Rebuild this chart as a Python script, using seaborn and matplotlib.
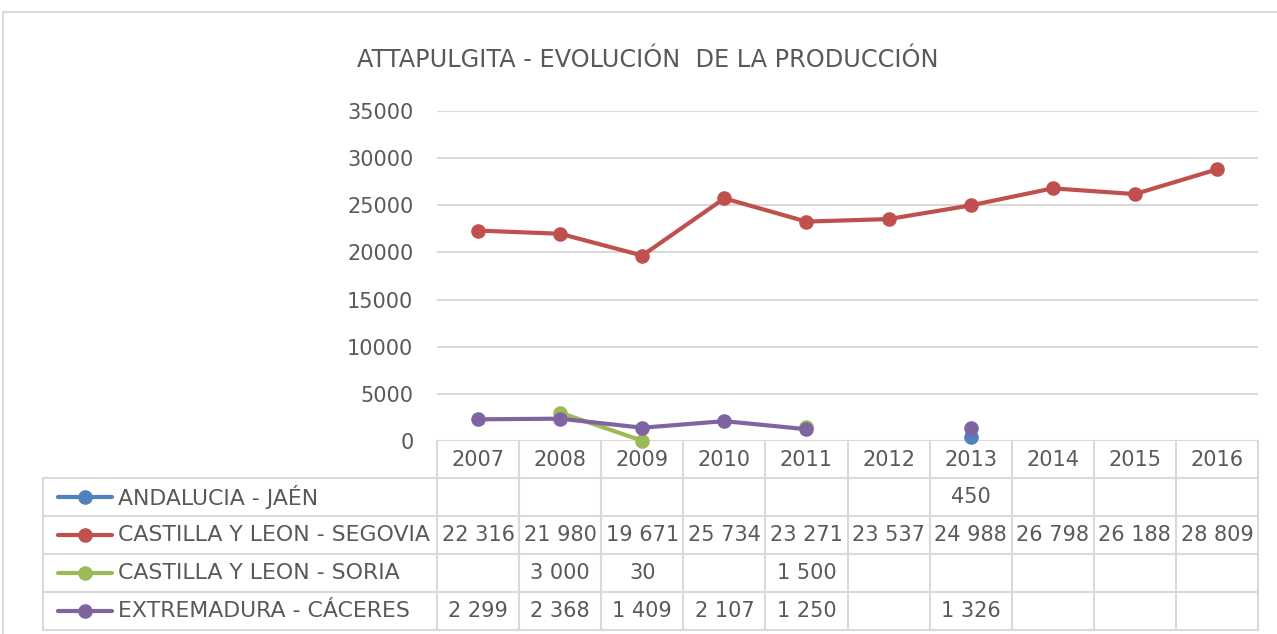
import matplotlib
matplotlib.use("Agg")
import matplotlib.pyplot as plt
import numpy as np
import pandas as pd
import seaborn as sns

# Chart data
YEARS = [2007, 2008, 2009, 2010, 2011, 2012, 2013, 2014, 2015, 2016]
SERIES = [
    "ANDALUCIA - JAÉN",
    "CASTILLA Y LEON - SEGOVIA",
    "CASTILLA Y LEON - SORIA",
    "EXTREMADURA - CÁCERES",
]
JAEN = [None, None, None, None, None, None, 450, None, None, None]
SEGOVIA = [22316, 21980, 19671, 25734, 23271, 23537, 24988, 26798, 26188, 28809]
SORIA = [None, 3000, 30, None, 1500, None, None, None, None, None]
CACERES = [2299, 2368, 1409, 2107, 1250, None, 1326, None, None, None]
COLORS = ["#4F81BD", "#C0504D", "#9BBB59", "#8064A2"]

TITLE = "ATTAPULGITA - EVOLUCIÓN  DE LA PRODUCCIÓN"
TXT = "#595959"
GRID = "#D9D9D9"
FS = 15

W, H = 1277, 634


def long_frame():
    # one row per point, with a segment id so gaps break the line
    rows = []
    for name, vals in zip(SERIES, [JAEN, SEGOVIA, SORIA, CACERES]):
        seg = 0
        prev = False
        for i, v in enumerate(vals):
            if v is None:
                if prev:
                    seg += 1
                prev = False
                continue
            rows.append({"pos": i, "value": v, "series": name, "seg": f"{name}#{seg}"})
            prev = True
    return pd.DataFrame(rows)


def fmt(v):
    return "" if v is None else f"{v:,.0f}".replace(",", " ")


sns.set_style("white")
plt.rcParams["font.family"] = ["DejaVu Sans"]

fig = plt.figure(figsize=(W / 100, H / 100), dpi=100)

# main plot area in pixel terms
x0, x1, ytop, ybot = 437, 1258, 111, 441
ax = fig.add_axes([x0 / W, 1 - ybot / H, (x1 - x0) / W, (ybot - ytop) / H])

df = long_frame()
sns.lineplot(
    data=df, x="pos", y="value", hue="series", units="seg", estimator=None,
    hue_order=SERIES, palette=COLORS, marker="o", markersize=10.5,
    markeredgewidth=0, linewidth=3, legend=False, ax=ax, zorder=3,
)
for ln in ax.lines:
    ln.set_clip_on(False)

ax.set_xlim(-0.5, len(YEARS) - 0.5)
ax.set_ylim(0, 35000)
ax.set_yticks(np.arange(0, 35001, 5000))
ax.set_xticks([])
ax.set_xlabel("")
ax.set_ylabel("")
ax.yaxis.grid(True, color=GRID, lw=1.5)
ax.tick_params(axis="y", length=0, pad=17, labelsize=FS, labelcolor=TXT)
for s in ax.spines.values():
    s.set_visible(False)
ax.patch.set_alpha(0)

fig.text(648 / W, 1 - 60 / H, TITLE, ha="center", va="center",
         fontsize=17.3, color=TXT)

# overlay axes in pixel coordinates for the data table
tab = fig.add_axes([0, 0, 1, 1], zorder=-1)
tab.set_xlim(0, W)
tab.set_ylim(H, 0)
tab.axis("off")

fig.canvas.draw()
edges = [ax.transData.transform((i - 0.5, 0))[0] for i in range(len(YEARS) + 1)]
centers = [(a + b) / 2 for a, b in zip(edges[:-1], edges[1:])]

row_edges = [441, 478, 516, 554, 592, 630]
left = 43

for e in edges:
    tab.plot([e, e], [row_edges[0], row_edges[-1]], color=GRID, lw=1.5)
tab.plot([left, left], [row_edges[1], row_edges[-1]], color=GRID, lw=1.5)
for y in row_edges[1:]:
    tab.plot([left, edges[-1]], [y, y], color=GRID, lw=1.5)

hy = (row_edges[0] + row_edges[1]) / 2 + 1
for c, yr in zip(centers, YEARS):
    tab.text(c, hy, str(yr), ha="center", va="center", fontsize=FS, color=TXT)

for r, (name, vals, col) in enumerate(zip(SERIES, [JAEN, SEGOVIA, SORIA, CACERES], COLORS)):
    cy = (row_edges[r + 1] + row_edges[r + 2]) / 2
    tab.plot([58, 112], [cy, cy], color=col, lw=3, solid_capstyle="round")
    tab.plot([85], [cy], marker="o", markersize=10.5, color=col, markeredgewidth=0)
    tab.text(118, cy, name, ha="left", va="center", fontsize=15.8, color=TXT)
    for c, v in zip(centers, vals):
        tab.text(c, cy, fmt(v), ha="center", va="center", fontsize=FS, color=TXT)

# chart frame
tab.plot([3, 3], [12, H], color=GRID, lw=1.5)
tab.plot([3, W], [12, 12], color=GRID, lw=1.5)

fig.savefig("out.png", dpi=100)
